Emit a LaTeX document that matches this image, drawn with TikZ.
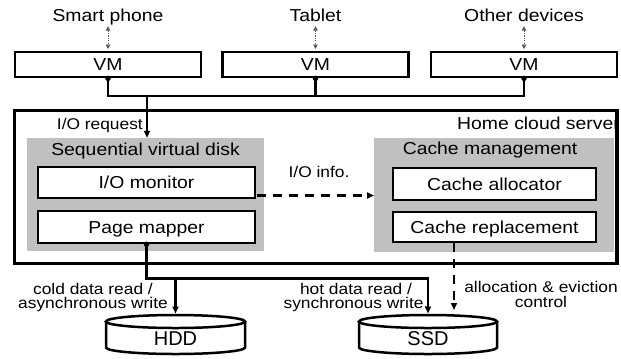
\documentclass[tikz,border=0pt]{standalone}
\usepackage{fontspec}
\setmainfont{Liberation Sans}[FakeStretch=1.12]
\newfontfamily\diskfont{Liberation Sans}
\usetikzlibrary{arrows.meta,calc}
\definecolor{panelgray}{RGB}{192,192,192}
\definecolor{dotgray}{RGB}{90,90,90}
\begin{document}
\begin{tikzpicture}[x=1bp,y=-1bp,
  big/.style={font=\fontsize{17.3bp}{20bp}\selectfont, inner sep=0pt},
  small/.style={font=\fontsize{15.5bp}{14.5bp}\selectfont, inner sep=0pt, align=center},
  disklabel/.style={font=\diskfont\fontsize{20bp}{22bp}\selectfont, inner sep=0pt},
  vmbox/.style={draw, line width=2.8bp, minimum width=186bp, minimum height=25bp, inner sep=0pt, big, text height=12.4bp, text depth=0pt},
  inbox/.style={draw, line width=2.5bp, fill=white, minimum height=31bp, inner sep=0pt, big, text height=12.4bp, text depth=0pt},
  graybox/.style={fill=panelgray, draw=none, inner sep=0pt},
  server/.style={draw, line width=3bp, inner sep=0pt},
  conn/.style={line width=2.7bp},
  tip/.style={-{Triangle[length=7bp,width=6bp]}},
  dashedconn/.style={line width=2.7bp, dash pattern=on 9bp off 7bp},
  devlink/.style={dotgray, line width=0.8bp, dash pattern=on 1.2bp off 1.2bp, {Triangle[length=4.5bp,width=4.5bp]}-{Triangle[length=4.5bp,width=4.5bp]}, shorten >=1.6bp},
  dot/.style={circle, fill, inner sep=0pt, minimum size=5.5bp},
  disk/.style={line width=2.5bp},
]
\useasboundingbox (0,0) rectangle (621,358);

% devices
\node[big, anchor=base, text depth=5bp] (sp) at (108,21) {Smart phone};
\node[big, anchor=base, text depth=5bp] (tab) at (315.5,21) {Tablet};
\node[big, anchor=base, text depth=5bp] (oth) at (524,21) {Other devices};

% VMs
\node[vmbox] (vm1) at (108,64.5) {VM};
\node[vmbox] (vm2) at (315.5,64.5) {VM};
\node[vmbox] (vm3) at (524,64.5) {VM};

\draw[devlink] (sp.south) -- (vm1.north);
\draw[devlink] (tab.south) -- (vm2.north);
\draw[devlink] (oth.south) -- (vm3.north);

% server
\node[server, minimum width=601bp, minimum height=153bp] (srv) at (315.5,186.5) {};
\begin{scope}
  \clip (15,110) rectangle (615,263);
  \node[big, anchor=base west] (home) at (457,129.3) {Home cloud server};
\end{scope}
\draw[line width=3bp] (srv.north east) -- (srv.south east);

% gray panels
\node[graybox, minimum width=237bp, minimum height=113bp] (sdisk) at (145.5,194.5) {};
\node[graybox, minimum width=240bp, minimum height=114bp] (cmgmt) at (494,195) {};
\node[big, anchor=base] (sdisktitle) at (145.5,155) {Sequential virtual disk};
\node[big, anchor=base] (cmgmttitle) at (490,154.5) {Cache management};

% inner boxes
\node[inbox, minimum width=217bp] (iomon) at (146.5,182.5) {I/O monitor};
\node[inbox, minimum width=217bp, minimum height=32bp] (pmap) at (146.5,227) {Page mapper};
\node[inbox, minimum width=203bp, minimum height=32bp] (calloc) at (494.5,184) {Cache allocator};
\node[inbox, minimum width=203bp, minimum height=30bp] (crep) at (494.5,227) {Cache replacement};

% VM bus
\coordinate (busjoin) at (147,96);
\draw[conn] (vm1.south) -- (vm1.south |- busjoin) -| (vm3.south);
\draw[conn] (vm2.south) -- (vm2.south |- busjoin);
\node[dot] at (vm1.south) {};
\node[dot] at (vm2.south) {};
\node[dot] at (vm3.south) {};
\draw[conn, tip] (busjoin) -- (busjoin |- sdisk.north);
\node[small, anchor=base east] (ioreq) at (143,129.3) {I/O request};

% I/O info
\coordinate (infofrom) at (256.5,195.5);
\coordinate (infoto) at (374,195.5);
\draw[dashedconn, tip] (infofrom) -- (infoto);
\node[small, anchor=base] (ioinfo) at (319,177.5) {I/O info.};

% disks
\coordinate (hddtop) at (175.5,321.5);
\coordinate (ssdtop) at (428,321.5);
\draw[disk] ($(hddtop)+(-69.5,0)$) -- ($(hddtop)+(-69.5,26)$) arc[start angle=180, end angle=360, x radius=69.5bp, y radius=6.5bp] -- ($(hddtop)+(69.5,0)$);
\draw[disk, fill=white] (hddtop) ellipse [x radius=69.5bp, y radius=6.5bp];
\draw[disk] ($(ssdtop)+(-69,0)$) -- ($(ssdtop)+(-69,26)$) arc[start angle=180, end angle=360, x radius=69bp, y radius=6.5bp] -- ($(ssdtop)+(69,0)$);
\draw[disk, fill=white] (ssdtop) ellipse [x radius=69bp, y radius=6.5bp];
\node[disklabel] (hdd) at (175.5,339) {HDD};
\node[disklabel] (ssd) at (428,339) {SSD};

% data paths
\coordinate (hddin) at (175.5,313.5);
\coordinate (ssdin) at (428,313.5);
\coordinate (split) at (146.5,278.5);
\draw[conn, tip] (pmap.south) -- (split) -| (ssdin);
\draw[conn, tip] (split -| hddin) -- (hddin);
\node[dot] at (pmap.south) {};

\coordinate (evsrc) at (454,243);
\coordinate (evdst) at (454,310);
\draw[dashedconn, tip] (evsrc) -- (evdst);

% labels
\node[small] (cold) at (93,297.3) {cold data read /\\asynchronous write};
\node[small] (hot) at (356,297.3) {hot data read /\\synchronous write.};
\node[small] (evict) at (541,294.3) {allocation \& eviction\\control};
\end{tikzpicture}
\end{document}
